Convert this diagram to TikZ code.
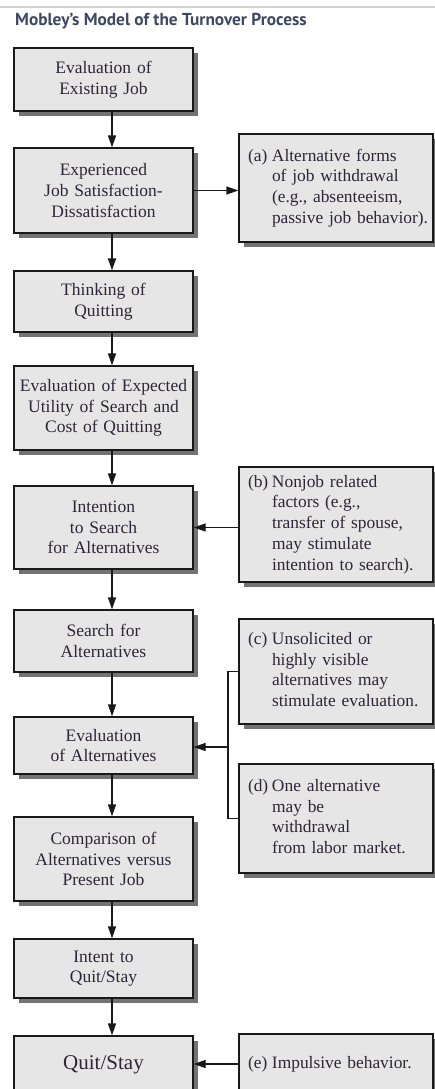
\documentclass[tikz,border=0pt]{standalone}
\usepackage{fontspec}
\setmainfont{Liberation Serif}
\newfontfamily\titlefont{PT Sans}
\usetikzlibrary{arrows.meta,shadows}
\definecolor{boxfill}{RGB}{230,230,230}
\definecolor{titlecol}{RGB}{62,72,98}
\definecolor{txtcol}{RGB}{45,38,55}
\tikzset{
  box/.style={draw=black!90, line width=1.3pt, fill=boxfill, minimum width=179pt,
    text width=176pt, align=center, inner sep=0pt, text=txtcol,
    font=\fontsize{17.5}{20.7}\selectfont,
    drop shadow={shadow xshift=5pt, shadow yshift=-5pt, fill=black!55, opacity=1}},
  sbox/.style={draw=black!90, line width=1.3pt, fill=boxfill, minimum width=194pt,
    text width=176pt, align=left, inner xsep=9pt, inner ysep=0pt, text=txtcol,
    font=\fontsize{17.4}{20.7}\selectfont,
    drop shadow={shadow xshift=5pt, shadow yshift=-5pt, fill=black!55, opacity=1}},
  arr/.style={-{Triangle[length=12pt,width=8pt]}, line width=1.3pt, draw=black!90},
  link/.style={line width=1.3pt, draw=black!90}
}
\newcommand{\lab}[2]{\noindent\begin{tabular}{@{}p{24pt}@{}l@{}}#1&#2\end{tabular}}
\begin{document}
\begin{tikzpicture}[x=1pt,y=-1pt]
\useasboundingbox (0,0) rectangle (435,1089);
\clip (0,0) rectangle (435,1089);
\fill[white] (0,0) rectangle (435,1089);
\draw[black!18, line width=1.5pt] (0,7) -- (435,7);
\node[anchor=base west, inner sep=0pt, text=titlecol, font=\titlefont\bfseries\fontsize{17.3}{20}\selectfont] (title) at (15,26) {Mobley’s Model of the Turnover Process};

\node[box, minimum height=63pt] (b1) at (103.5,79.5) {Evaluation of\\Existing Job};
\node[box, minimum height=85pt] (b2) at (103.5,190.5) {Experienced\\Job Satisfaction-\\Dissatisfaction};
\node[box, minimum height=61pt] (b3) at (103.5,301.5) {Thinking of\\Quitting};
\node[box, minimum height=84pt] (b4) at (103.5,408) {Evaluation of Expected\\Utility of Search and\\Cost of Quitting};
\node[box, minimum height=83pt] (b5) at (103.5,527.5) {Intention\\to Search\\for Alternatives};
\node[box, minimum height=62pt] (b6) at (103.5,641) {Search for\\Alternatives};
\node[box, minimum height=57pt] (b7) at (103.5,745.5) {Evaluation\\of Alternatives};
\node[box, minimum height=84pt] (b8) at (103.5,859) {Comparison of\\Alternatives versus\\Present Job};
\node[box, minimum height=59pt] (b9) at (103.5,968.5) {Intent to\\Quit/Stay};
\node[box, minimum height=58pt, font=\fontsize{21}{24}\selectfont] (b10) at (103.5,1065) {Quit/Stay};

\node[sbox, minimum height=108pt] (sa) at (336,188) {\lab{(a)}{Alternative forms\\&of job withdrawal\\&(e.g., absenteeism,\\&passive job behavior).}};
\node[sbox, minimum height=115pt] (sb) at (336,524.5) {\lab{(b)}{Nonjob related\\&factors (e.g.,\\&transfer of spouse,\\&may stimulate\\&intention to search).}};
\node[sbox, minimum height=105pt] (sc) at (336,671.5) {\lab{(c)}{Unsolicited or\\&highly visible\\&alternatives may\\&stimulate evaluation.}};
\node[sbox, minimum height=109pt] (sd) at (336,818.5) {\lab{(d)}{One alternative\\&may be\\&withdrawal\\&from labor market.}};
\node[sbox, minimum height=60pt] (se) at (336,1064) {\lab{(e)}{Impulsive behavior.}};

\foreach \a/\b in {b1/b2,b2/b3,b3/b4,b4/b5,b5/b6,b6/b7,b7/b8,b8/b9,b9/b10}
  \draw[arr] ([xshift=8.5pt]\a.south) -- ([xshift=8.5pt]\b.north);

\draw[arr] (b2.east) -- (sa.west |- b2.east);
\draw[arr] (sb.west |- b5.east) -- (b5.east);
\coordinate (j) at (228,747);
\draw[link] (sc.west) -- (sc.west -| j) -- (sd.west -| j) -- (sd.west);
\draw[arr] (j) -- (b7.east |- j);
\draw[arr] (se.west) -- (b10.east |- se.west);
\end{tikzpicture}
\end{document}
